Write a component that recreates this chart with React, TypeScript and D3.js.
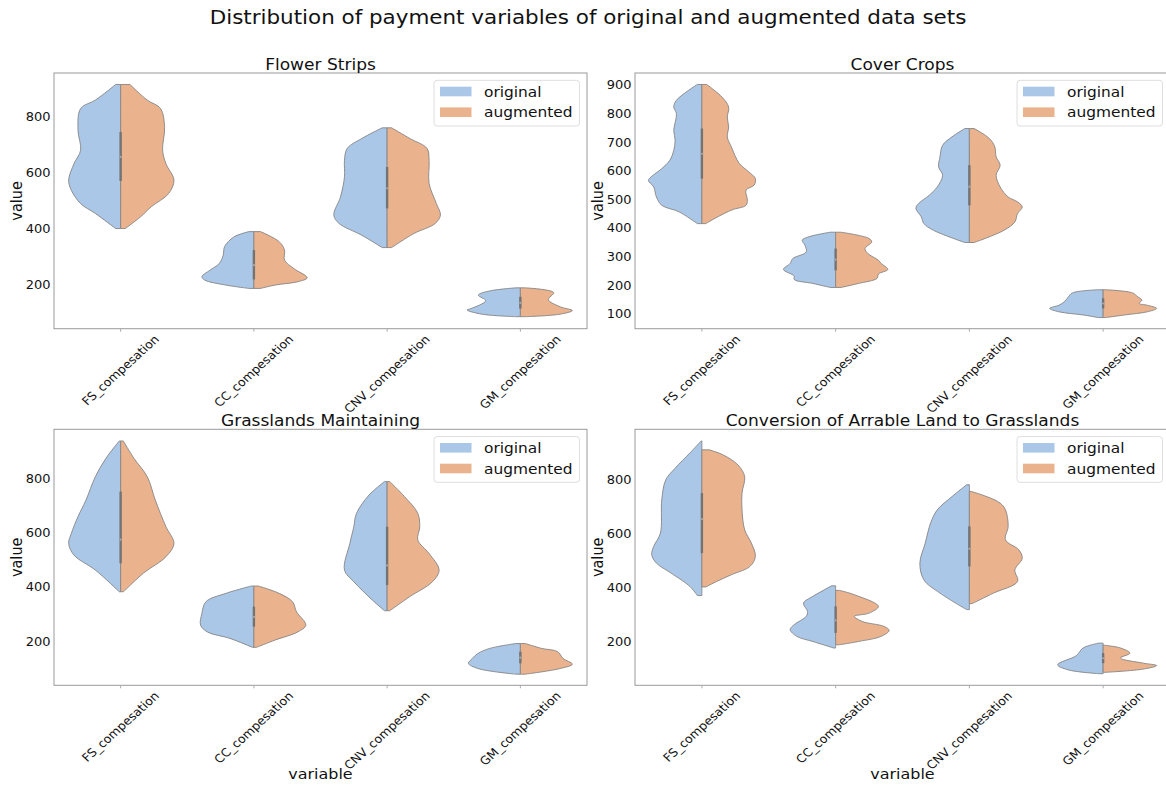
import React, { useRef, useEffect } from "react";
import * as d3 from "d3";

const mainTitle = "Distribution of payment variables of original and augmented data sets";
const categories = ["FS_compesation", "CC_compesation", "CNV_compesation", "GM_compesation"];
const hues = ["original", "augmented"];
const hueColors = ["#aac7e7", "#eab38e"];
const panelTitles = ["Flower Strips", "Cover Crops", "Grasslands Maintaining", "Conversion of Arrable Land to Grasslands"];

// y limits and ticks per panel
const yLimits: [number, number][] = [[43, 957], [49, 942], [38, 982], [40, 987]];
const flowerTicks = [200, 400, 600, 800];
const coverTicks = [100, 200, 300, 400, 500, 600, 700, 800, 900];
const grassTicks = [200, 400, 600, 800];
const conversionTicks = [200, 400, 600, 800];

// violin halves: [value, half width in category steps], top to bottom
const flowerOriginal: [number, number][][] = [
  [[916, 0.037], [860, 0.19], [830, 0.3], [752, 0.32], [681, 0.3], [633, 0.35], [574, 0.39], [538, 0.37], [490, 0.3], [455, 0.19], [401, 0.037]],
  [[390, 0.037], [371, 0.15], [336, 0.22], [306, 0.23], [276, 0.26], [252, 0.33], [229, 0.39], [217, 0.37], [199, 0.21], [187, 0.037]],
  [[761, 0.037], [723, 0.19], [687, 0.3], [645, 0.32], [586, 0.32], [514, 0.35], [449, 0.4], [419, 0.36], [377, 0.19], [333, 0.037]],
  [[189, 0.034], [178, 0.23], [163, 0.315], [143, 0.26], [115, 0.37], [110, 0.4], [95, 0.29], [86, 0.034]],
];
const flowerAugmented: [number, number][][] = [
  [[916, 0.07], [860, 0.2], [830, 0.3], [763, 0.33], [681, 0.315], [633, 0.34], [574, 0.4], [526, 0.36], [479, 0.23], [443, 0.15], [401, 0.035]],
  [[390, 0.05], [354, 0.19], [324, 0.23], [288, 0.23], [258, 0.3], [225, 0.4], [211, 0.33], [199, 0.16], [187, 0.05]],
  [[761, 0.034], [723, 0.17], [687, 0.3], [645, 0.315], [562, 0.315], [490, 0.37], [449, 0.4], [419, 0.36], [383, 0.2], [333, 0.034]],
  [[189, 0.037], [172, 0.25], [147, 0.21], [121, 0.3], [108, 0.39], [95, 0.3], [86, 0.037]],
];
const coverOriginal: [number, number][][] = [
  [[902, 0.034], [847, 0.19], [823, 0.21], [800, 0.19], [742, 0.21], [707, 0.2], [672, 0.21], [637, 0.24], [608, 0.3], [579, 0.38], [567, 0.4], [544, 0.36], [509, 0.34], [480, 0.3], [457, 0.17], [416, 0.034]],
  [[386, 0.04], [370, 0.2], [358, 0.25], [341, 0.23], [317, 0.22], [294, 0.32], [277, 0.34], [256, 0.39], [233, 0.31], [221, 0.31], [207, 0.17], [193, 0.04]],
  [[748, 0.034], [719, 0.13], [690, 0.2], [649, 0.22], [614, 0.23], [585, 0.2], [544, 0.24], [515, 0.3], [486, 0.38], [469, 0.4], [440, 0.36], [416, 0.34], [393, 0.27], [350, 0.034]],
  [[185, 0.036], [174, 0.23], [160, 0.26], [143, 0.29], [131, 0.33], [120, 0.4], [108, 0.33], [97, 0.15], [88, 0.036]],
];
const coverAugmented: [number, number][][] = [
  [[902, 0.036], [858, 0.15], [823, 0.2], [788, 0.19], [753, 0.2], [719, 0.19], [684, 0.22], [626, 0.28], [597, 0.35], [573, 0.4], [550, 0.39], [533, 0.33], [498, 0.34], [480, 0.33], [463, 0.22], [422, 0.05], [416, 0.03]],
  [[386, 0.04], [364, 0.25], [352, 0.27], [329, 0.22], [312, 0.24], [288, 0.32], [277, 0.34], [256, 0.39], [240, 0.32], [225, 0.31], [207, 0.17], [193, 0.04]],
  [[748, 0.036], [713, 0.15], [684, 0.19], [649, 0.2], [620, 0.23], [585, 0.2], [544, 0.23], [509, 0.29], [492, 0.36], [474, 0.395], [451, 0.36], [422, 0.34], [393, 0.26], [350, 0.036]],
  [[185, 0.02], [174, 0.22], [160, 0.26], [149, 0.29], [137, 0.27], [131, 0.33], [120, 0.4], [108, 0.33], [97, 0.16], [88, 0.02]],
];
const grassOriginal: [number, number][][] = [
  [[939, 0.01], [875, 0.11], [807, 0.19], [721, 0.26], [660, 0.32], [598, 0.37], [561, 0.39], [518, 0.35], [463, 0.19], [383, 0.01]],
  [[404, 0.02], [377, 0.21], [346, 0.36], [303, 0.39], [260, 0.4], [235, 0.35], [211, 0.18], [178, 0.01]],
  [[789, 0.02], [740, 0.135], [672, 0.23], [623, 0.25], [561, 0.28], [463, 0.32], [420, 0.25], [352, 0.11], [313, 0.02]],
  [[192, 0.034], [174, 0.23], [155, 0.32], [137, 0.36], [119, 0.39], [100, 0.32], [79, 0.034]],
];
const grassAugmented: [number, number][][] = [
  [[939, 0.02], [875, 0.1], [807, 0.2], [721, 0.26], [623, 0.34], [561, 0.4], [512, 0.34], [451, 0.17], [389, 0.034], [383, 0.02]],
  [[404, 0.034], [377, 0.19], [346, 0.29], [309, 0.32], [260, 0.39], [235, 0.33], [205, 0.16], [178, 0.02]],
  [[789, 0.02], [734, 0.13], [672, 0.23], [623, 0.245], [574, 0.23], [524, 0.315], [463, 0.39], [420, 0.34], [365, 0.17], [313, 0.02]],
  [[192, 0.037], [174, 0.16], [162, 0.28], [137, 0.32], [116, 0.39], [100, 0.3], [79, 0.037]],
];
const conversionOriginal: [number, number][][] = [
  [[944, 0.005], [899, 0.09], [843, 0.2], [800, 0.27], [726, 0.3], [603, 0.31], [554, 0.36], [523, 0.375], [492, 0.34], [455, 0.23], [406, 0.09], [372, 0.034]],
  [[408, 0.03], [369, 0.17], [344, 0.24], [313, 0.21], [295, 0.22], [264, 0.31], [246, 0.34], [221, 0.29], [202, 0.17], [178, 0.014]],
  [[782, 0.02], [738, 0.13], [689, 0.24], [640, 0.29], [566, 0.33], [492, 0.37], [430, 0.34], [381, 0.22], [320, 0.02]],
  [[196, 0.034], [178, 0.15], [150, 0.2], [116, 0.34], [97, 0.26], [83, 0.034]],
];
const conversionAugmented: [number, number][][] = [
  [[911, 0.056], [892, 0.16], [855, 0.27], [812, 0.32], [751, 0.3], [689, 0.3], [615, 0.32], [566, 0.37], [517, 0.4], [480, 0.36], [449, 0.22], [424, 0.11], [404, 0.03]],
  [[391, 0.03], [375, 0.14], [332, 0.32], [307, 0.25], [295, 0.14], [276, 0.2], [258, 0.36], [243, 0.4], [221, 0.34], [202, 0.17], [190, 0.03]],
  [[757, 0.014], [738, 0.13], [714, 0.23], [689, 0.27], [628, 0.29], [578, 0.27], [541, 0.37], [510, 0.395], [467, 0.34], [424, 0.36], [381, 0.18], [342, 0.02]],
  [[188, 0.01], [178, 0.13], [159, 0.2], [141, 0.13], [122, 0.3], [113, 0.4], [100, 0.3], [88, 0.02]],
];

// inner box: [q1, q3, median]
const flowerBox = [[571, 746, 657], [219, 324, 270], [473, 621, 545], [115, 157, 135]];
const coverBox = [[573, 748, 660], [253, 329, 290], [480, 620, 545], [120, 155, 137]];
const grassBox = [[488, 752, 575], [254, 328, 290], [408, 623, 480], [119, 162, 140]];
const conversionBox = [[529, 751, 655], [234, 332, 280], [480, 628, 545], [122, 159, 140]];

const panelTicks = [flowerTicks, coverTicks, grassTicks, conversionTicks];
const panelViolins = [
  [flowerOriginal, flowerAugmented],
  [coverOriginal, coverAugmented],
  [grassOriginal, grassAugmented],
  [conversionOriginal, conversionAugmented],
];
const panelBoxes = [flowerBox, coverBox, grassBox, conversionBox];

const W = 1166;
const H = 792;
const SX = 1.1; // source figure was stretched sideways, so text is too
const FONT = "DejaVu Sans";
const INK = "#111";

const frames = [
  { x0: 54, x1: 587, y0: 73, y1: 328.7 },
  { x0: 635, x1: 1170, y0: 73, y1: 328.7 },
  { x0: 54, x1: 587, y0: 429.3, y1: 685.3 },
  { x0: 635, x1: 1170, y0: 429.3, y1: 685.3 },
];

const App = () => {
  const canvas = useRef<SVGSVGElement>(null);

  const text = (g: any, x: number, y: number, s: string, size: number, anchor = "middle", rot = 0) =>
    g.append("text")
      .attr("transform", `translate(${x},${y}) scale(${SX},1) rotate(${rot})`)
      .attr("font-size", size)
      .attr("text-anchor", anchor)
      .attr("fill", INK)
      .text(s);

  const drawPanel = (svg: any, i: number) => {
    const f = frames[i];
    const g = svg.append("g");
    const x = d3.scaleBand().domain(categories).range([f.x0, f.x1]).padding(0);
    const y = d3.scaleLinear().domain(yLimits[i]).range([f.y1, f.y0]);
    const step = x.bandwidth();

    // violins
    categories.forEach((cat, ci) => {
      const cx = (x(cat) as number) + step / 2;
      hues.forEach((h, hi) => {
        const side = hi === 0 ? -1 : 1;
        const area = d3.area<[number, number]>()
          .curve(d3.curveCatmullRom.alpha(0.5))
          .y(d => y(d[0]))
          .x0(cx)
          .x1(d => cx + side * d[1] * step);
        g.append("path")
          .attr("d", area(panelViolins[i][hi][ci]))
          .attr("fill", hueColors[hi])
          .attr("stroke", "#858585")
          .attr("stroke-width", 0.9)
          .attr("stroke-linejoin", "round");
      });
      const b = panelBoxes[i][ci];
      g.append("line")
        .attr("x1", cx).attr("x2", cx)
        .attr("y1", y(b[0])).attr("y2", y(b[1]))
        .attr("stroke", "#737373")
        .attr("stroke-width", 2.4);
      g.append("circle")
        .attr("cx", cx).attr("cy", y(b[2]))
        .attr("r", 1.1)
        .attr("fill", "#a8a8a8");
    });

    // frame
    g.append("rect")
      .attr("x", f.x0).attr("y", f.y0)
      .attr("width", f.x1 - f.x0).attr("height", f.y1 - f.y0)
      .attr("fill", "none")
      .attr("stroke", "#9a9a9a")
      .attr("stroke-width", 1);

    // y ticks
    panelTicks[i].forEach(t => {
      text(g, f.x0 - 3.5, y(t) + 4.3, String(t), 11.8, "end");
    });

    // x ticks + rotated labels
    categories.forEach(cat => {
      const cx = (x(cat) as number) + step / 2;
      g.append("line")
        .attr("x1", cx).attr("x2", cx)
        .attr("y1", f.y1).attr("y2", f.y1 + 3)
        .attr("stroke", "#aaa");
      const t = g.append("text")
        .attr("font-size", 11.5)
        .attr("text-anchor", "middle")
        .attr("dominant-baseline", "central")
        .attr("fill", INK)
        .text(cat);
      const len = (t.node() as SVGTextElement).getComputedTextLength();
      const bh = Math.SQRT1_2 * (len + 11.5);
      t.attr("transform", `translate(${cx},${f.y1 + 4.5 + bh / 2}) scale(${SX},1) rotate(-45)`);
    });

    // axis labels + title
    text(g, f.x0 - 37, (f.y0 + f.y1) / 2, "value", 14.5, "middle", -90)
      .attr("dominant-baseline", "central");
    if (i >= 2) text(g, (f.x0 + f.x1) / 2, 779, "variable", 14.5);
    text(g, (f.x0 + f.x1) / 2, f.y0 - 3.5, panelTitles[i], 15.5);

    // legend
    const lx = f.x1 - 153;
    const ly = f.y0 + 7.3;
    g.append("rect")
      .attr("x", lx).attr("y", ly)
      .attr("width", 145.5).attr("height", 45.7)
      .attr("rx", 3)
      .attr("fill", "white").attr("fill-opacity", 0.8)
      .attr("stroke", "#dedede");
    hues.forEach((h, hi) => {
      const cy = ly + 11.2 + hi * 20.7;
      g.append("rect")
        .attr("x", lx + 6).attr("y", cy - 4.8)
        .attr("width", 31.5).attr("height", 9.6)
        .attr("fill", hueColors[hi]);
      text(g, lx + 50, cy + 5, h, 14, "start");
    });
  };

  useEffect(() => {
    const svg = d3.select(canvas.current);
    svg.selectAll("*").remove();
    svg.append("rect").attr("width", W).attr("height", H).attr("fill", "white");
    text(svg, 588, 24.3, mainTitle, 19.5);
    frames.forEach((_, i) => drawPanel(svg, i));
  });

  return (
    <svg
      ref={canvas}
      width={W}
      height={H}
      style={{ position: "absolute", left: 0, top: 0, fontFamily: FONT }}
    />
  );
};

export default App;
